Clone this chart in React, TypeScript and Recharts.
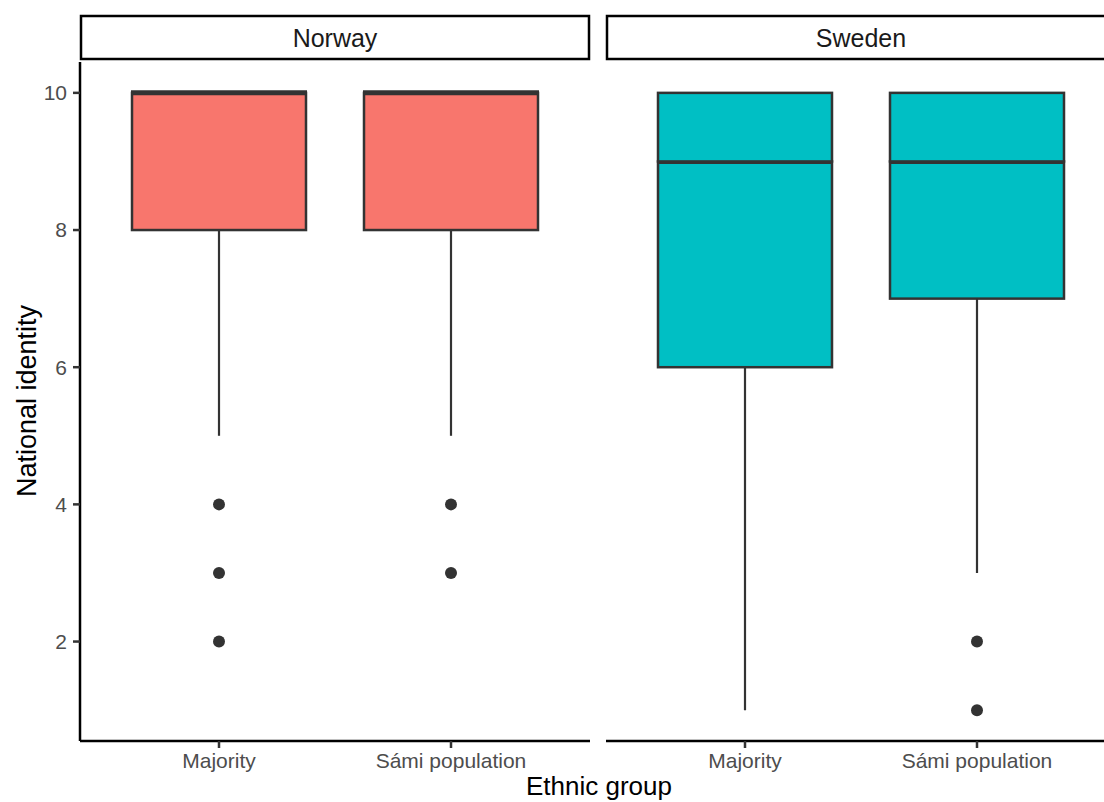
import React from 'react';
import { ComposedChart, Bar, Line, XAxis, YAxis } from 'recharts';

// categories and axis ticks
const groups = ['Majority', 'Sámi population'];
const yTicks = [2, 4, 6, 8, 10];

// Norway box statistics (per group)
const norwayLower = [5, 5];
const norwayQ1 = [8, 8];
const norwayMedian = [10, 10];
const norwayQ3 = [10, 10];
const norwayUpper = [10, 10];
const norwayOutliers = [[4, 3, 2], [4, 3]];

// Sweden box statistics (per group)
const swedenLower = [1, 3];
const swedenQ1 = [6, 7];
const swedenMedian = [9, 9];
const swedenQ3 = [10, 10];
const swedenUpper = [10, 10];
const swedenOutliers = [[], [2, 1]];

const FONT = '"Liberation Sans", Arial, Helvetica, sans-serif';
const INK = '#333333';

const buildRows = (
  lower: number[],
  q1: number[],
  median: number[],
  q3: number[],
  upper: number[],
  outliers: number[][]
) =>
  groups.map((group, i) => ({
    group,
    base: lower[i],
    whiskerLow: q1[i] - lower[i],
    boxLow: median[i] - q1[i],
    boxHigh: q3[i] - median[i],
    whiskerHigh: upper[i] - q3[i],
    out1: outliers[i][0] ?? null,
    out2: outliers[i][1] ?? null,
    out3: outliers[i][2] ?? null,
  }));

const norwayRows = buildRows(norwayLower, norwayQ1, norwayMedian, norwayQ3, norwayUpper, norwayOutliers);
const swedenRows = buildRows(swedenLower, swedenQ1, swedenMedian, swedenQ3, swedenUpper, swedenOutliers);

const Empty = () => <g />;

const Whisker = (props: any) => {
  const { x, y, width, height } = props;
  if (!height || height <= 0) return <g />;
  const cx = x + width / 2;
  return <line x1={cx} x2={cx} y1={y} y2={y + height} stroke={INK} strokeWidth={2.2} />;
};

const makeBox = (fill: string, withMedian: boolean) => (props: any) => {
  const { x, y, width, height } = props;
  if (height == null || height < 0) return <g />;
  return (
    <g>
      {height > 0 && (
        <rect x={x} y={y} width={width} height={height} fill={fill} stroke={INK} strokeWidth={2.5} />
      )}
      {withMedian && <line x1={x - 1} x2={x + width + 1} y1={y} y2={y} stroke={INK} strokeWidth={5} />}
    </g>
  );
};

const OutlierDot = (props: any) => {
  const { cx, cy, value, index, dataKey } = props;
  if (value == null || cx == null || cy == null) return <g key={`${dataKey}-${index}`} />;
  return <circle key={`${dataKey}-${index}`} cx={cx} cy={cy} r={6} fill={INK} />;
};

interface PanelProps {
  rows: any[];
  fill: string;
  showYAxis: boolean;
}

const Panel: React.FC<PanelProps> = ({ rows, fill, showYAxis }) => (
  <ComposedChart
    width={showYAxis ? 590 : 510}
    height={802}
    data={rows}
    margin={{ top: 62, right: 0, bottom: 21, left: 0 }}
  >
    <XAxis
      dataKey="group"
      type="category"
      height={40}
      padding={{ left: 23, right: 23 }}
      axisLine={{ stroke: '#000', strokeWidth: 2.5 }}
      tickLine={{ stroke: INK, strokeWidth: 2.5 }}
      tickSize={7}
      tickMargin={5}
      tick={{ fill: '#4d4d4d', fontSize: 21, fontFamily: FONT }}
    />
    <YAxis
      type="number"
      domain={[0.55, 10.45]}
      ticks={yTicks}
      allowDataOverflow
      hide={!showYAxis}
      width={80}
      axisLine={{ stroke: '#000', strokeWidth: 2.5 }}
      tickLine={{ stroke: INK, strokeWidth: 2.5 }}
      tickSize={7}
      tickMargin={6}
      tick={{ fill: '#4d4d4d', fontSize: 21, fontFamily: FONT }}
    />
    <Bar dataKey="base" stackId="box" barSize={174} shape={Empty} isAnimationActive={false} />
    <Bar dataKey="whiskerLow" stackId="box" barSize={174} shape={Whisker} isAnimationActive={false} />
    <Bar dataKey="boxLow" stackId="box" barSize={174} shape={makeBox(fill, true)} isAnimationActive={false} />
    <Bar dataKey="boxHigh" stackId="box" barSize={174} shape={makeBox(fill, false)} isAnimationActive={false} />
    <Bar dataKey="whiskerHigh" stackId="box" barSize={174} shape={Whisker} isAnimationActive={false} />
    {['out1', 'out2', 'out3'].map((k) => (
      <Line
        key={k}
        dataKey={k}
        stroke="none"
        dot={OutlierDot}
        activeDot={false}
        legendType="none"
        isAnimationActive={false}
      />
    ))}
  </ComposedChart>
);

const App: React.FC = () => (
  <div
    style={{
      position: 'absolute',
      left: 0,
      top: 0,
      width: 1104,
      height: 802,
      overflow: 'hidden',
      background: '#fff',
      fontFamily: FONT,
    }}
  >
    <svg width={1104} height={802} style={{ position: 'absolute', left: 0, top: 0 }}>
      <rect x={81} y={16} width={508} height={43} fill="#fff" stroke="#000" strokeWidth={2.5} />
      <text x={335} y={47} textAnchor="middle" fontSize={25} fill="#1a1a1a" fontFamily={FONT}>
        Norway
      </text>
      <rect x={607} y={16} width={508} height={43} fill="#fff" stroke="#000" strokeWidth={2.5} />
      <text x={861} y={47} textAnchor="middle" fontSize={25} fill="#1a1a1a" fontFamily={FONT}>
        Sweden
      </text>
      <text
        x={36}
        y={401}
        transform="rotate(-90 36 401)"
        textAnchor="middle"
        fontSize={27}
        fill="#000"
        fontFamily={FONT}
      >
        National identity
      </text>
      <text x={599} y={795} textAnchor="middle" fontSize={26} fill="#000" fontFamily={FONT}>
        Ethnic group
      </text>
    </svg>
    <div style={{ position: 'absolute', left: 0, top: 0 }}>
      <Panel rows={norwayRows} fill="#F8766D" showYAxis />
    </div>
    <div style={{ position: 'absolute', left: 606, top: 0 }}>
      <Panel rows={swedenRows} fill="#00BFC4" showYAxis={false} />
    </div>
  </div>
);

export default App;
